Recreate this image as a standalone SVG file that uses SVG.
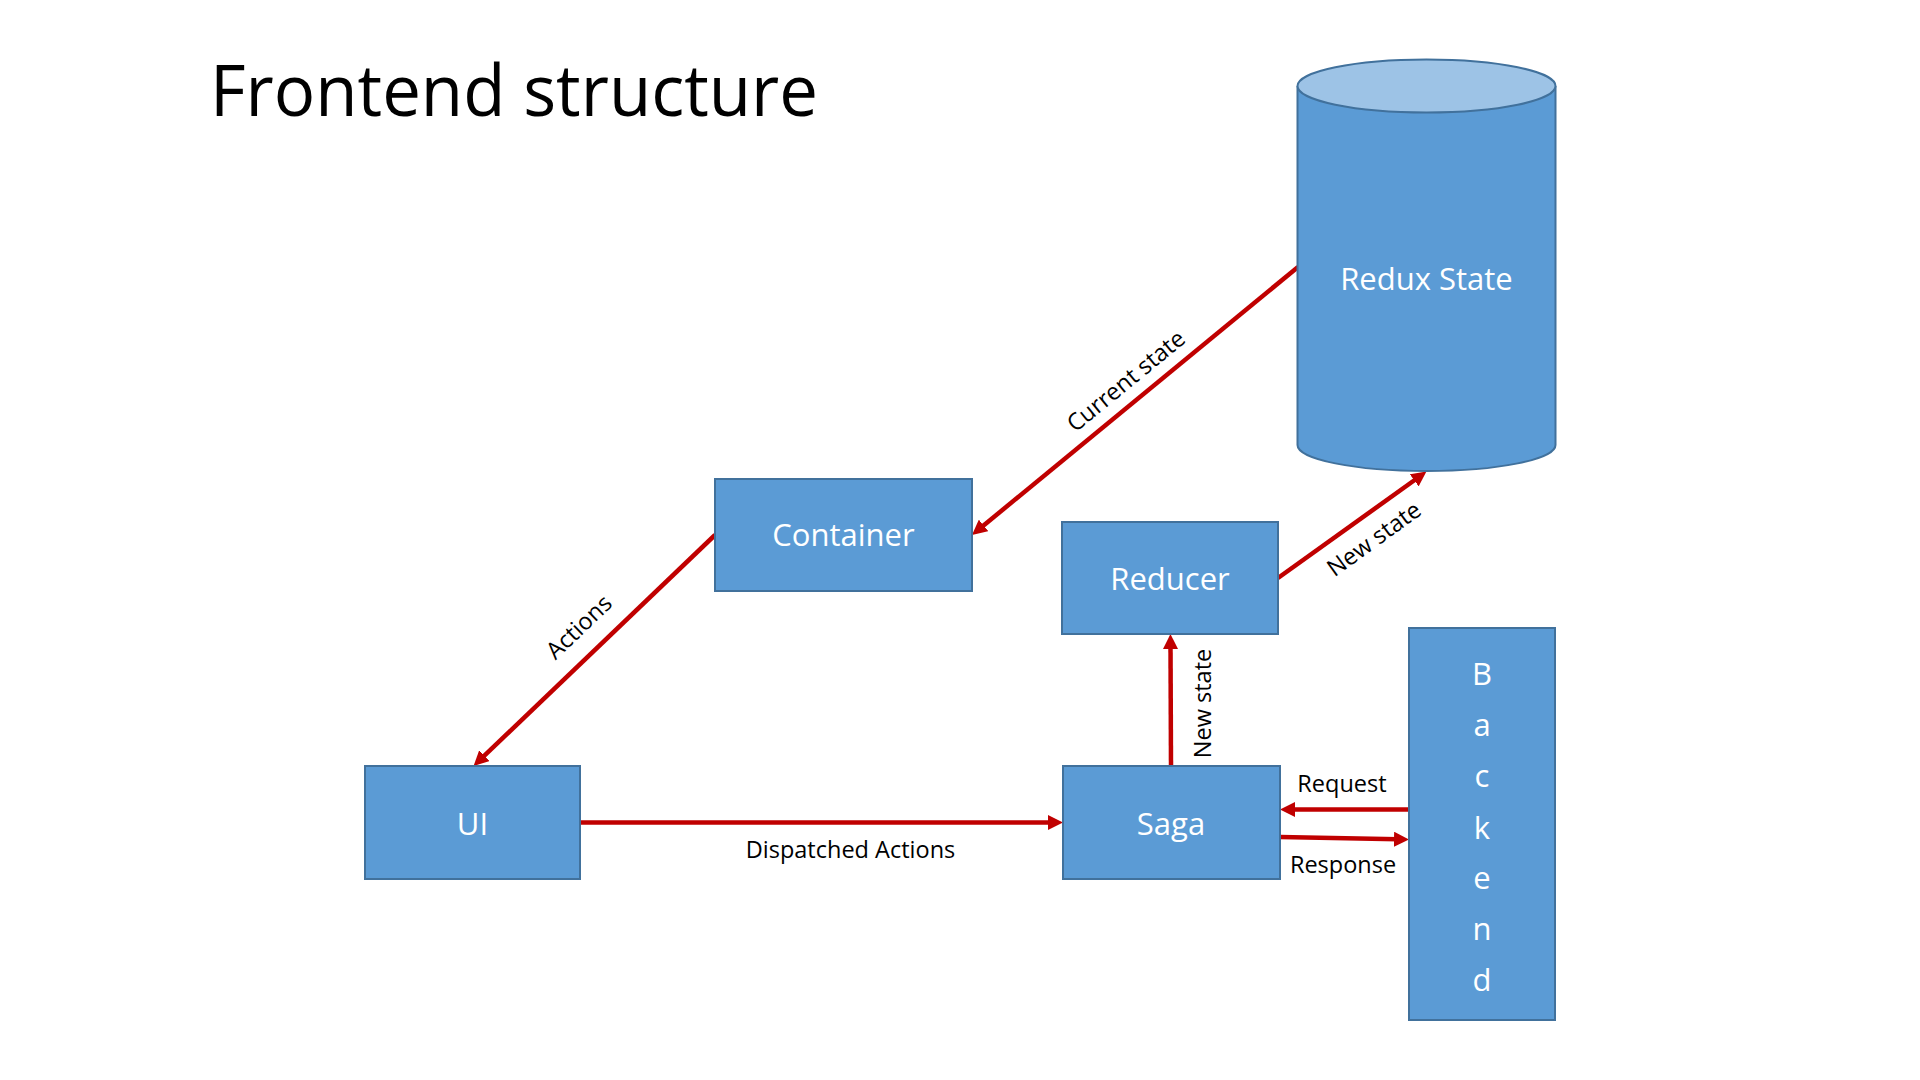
<svg xmlns="http://www.w3.org/2000/svg" width="1920" height="1080" viewBox="0 0 1920 1080">
<style>
.box{fill:#5B9BD5;stroke:#41719C;stroke-width:2}
.ntxt{font-family:"Open Sans","Liberation Sans",sans-serif;font-size:31px;fill:#FFFFFF;text-anchor:middle}
.lbl{font-family:"Open Sans","Liberation Sans",sans-serif;font-size:23.5px;fill:#000000;text-anchor:middle}
.conn{stroke:#C00000;stroke-width:4.5;fill:none;marker-end:url(#ah)}
</style>
<defs>
<marker id="ah" markerUnits="userSpaceOnUse" markerWidth="15" markerHeight="15" refX="4" refY="7.5" orient="auto">
<path d="M0,0 L15,7.5 L0,15 z" fill="#C00000"/>
</marker>
</defs>
<rect width="1920" height="1080" fill="#FFFFFF"/>
<text x="210" y="116" font-family="'Open Sans','Liberation Sans',sans-serif" font-size="72" textLength="608" lengthAdjust="spacingAndGlyphs" fill="#000000">Frontend structure</text>

<g id="connectors">
<line class="conn" x1="1298" y1="267" x2="980.5" y2="528"/>
<line class="conn" x1="715" y1="535" x2="481.5" y2="758.4"/>
<line class="conn" x1="580" y1="822.5" x2="1052" y2="822.5"/>
<line class="conn" x1="1171" y1="766" x2="1170.5" y2="645"/>
<line class="conn" x1="1278" y1="578" x2="1417.5" y2="478"/>
<line class="conn" x1="1409" y1="809.5" x2="1291" y2="809.5"/>
<line class="conn" x1="1280" y1="837" x2="1398" y2="839.3"/>
<text class="lbl" transform="translate(1126,381) rotate(-39.4)" x="0" y="8">Current state</text>
<text class="lbl" transform="translate(579,627) rotate(-43.7)" x="0" y="8">Actions</text>
<text class="lbl" transform="translate(1374,539) rotate(-35.9)" x="0" y="8">New state</text>
<text class="lbl" transform="translate(1203,703.5) rotate(-90)" x="0" y="8">New state</text>
<text class="lbl" x="850.5" y="858">Dispatched Actions</text>
<text class="lbl" x="1342" y="791.5">Request</text>
<text class="lbl" x="1343" y="873">Response</text>
</g>

<g id="redux-state">
<path class="box" d="M1297.5,86 L1297.5,445 A129,26 0 0 0 1555.5,445 L1555.5,86"/>
<ellipse cx="1426.5" cy="86" rx="129" ry="26.5" fill="#9DC3E6" stroke="#41719C" stroke-width="2"/>
<text class="ntxt" x="1426.5" y="290">Redux State</text>
</g>

<g id="container">
<rect class="box" x="715" y="479" width="257" height="112"/>
<text class="ntxt" x="843.5" y="546">Container</text>
</g>

<g id="reducer">
<rect class="box" x="1062" y="522" width="216" height="112"/>
<text class="ntxt" x="1170" y="590">Reducer</text>
</g>

<g id="ui">
<rect class="box" x="365" y="766" width="215" height="113"/>
<text class="ntxt" x="472.5" y="835">UI</text>
</g>

<g id="saga">
<rect class="box" x="1063" y="766" width="217" height="113"/>
<text class="ntxt" x="1171" y="835">Saga</text>
</g>

<g id="backend">
<rect class="box" x="1409" y="628" width="146" height="392"/>
<text class="ntxt" x="1482" y="685">B</text>
<text class="ntxt" x="1482" y="736">a</text>
<text class="ntxt" x="1482" y="787">c</text>
<text class="ntxt" x="1482" y="839">k</text>
<text class="ntxt" x="1482" y="889">e</text>
<text class="ntxt" x="1482" y="940">n</text>
<text class="ntxt" x="1482" y="991">d</text>
</g>
</svg>
